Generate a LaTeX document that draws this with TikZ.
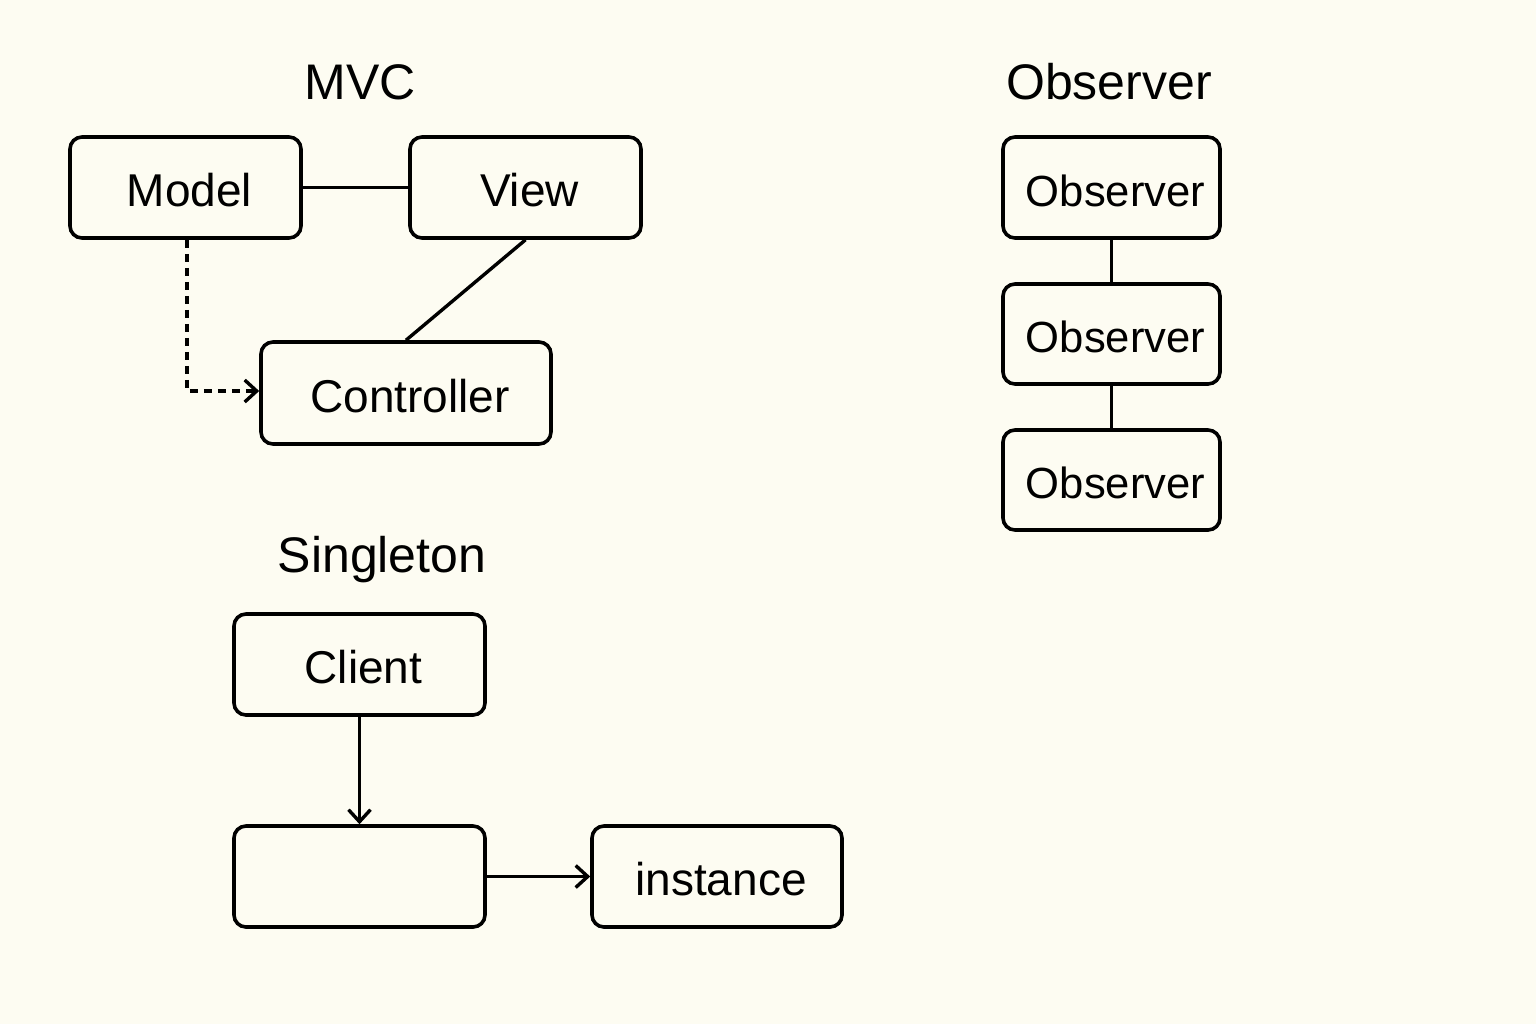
\documentclass[tikz,border=0pt]{standalone}
\usepackage{fontspec}
\setmainfont{Liberation Sans}
\usetikzlibrary{arrows.meta}
\definecolor{bg}{HTML}{FDFCF2}
\begin{document}
\begin{tikzpicture}[x=0.5pt,y=-0.5pt,
  box/.style={draw=black,line width=1.8pt,rounded corners=6pt,inner sep=0pt,fill=bg},
  title/.style={font=\fontsize{25pt}{30pt}\selectfont,anchor=center},
  lbl/.style={font=\fontsize{23pt}{27pt}\selectfont,xshift=2pt,yshift=-1.5pt},
  olbl/.style={lbl,font=\fontsize{21.8pt}{26pt}\selectfont},
  conn/.style={draw=black,line width=1.7pt},
  arr/.style={conn,-{Straight Barb[length=6pt,width=11pt,line width=1.7pt]}}]
\fill[bg] (0,0) rectangle (1536,1024);
\useasboundingbox (0,0) rectangle (1536,1024);
% titles
\node[title] (tmvc) at (360,82) {MVC};
\node[title] (tobs) at (1109,82) {Observer};
\node[title] (tsing) at (382,560) {Singleton};
% MVC boxes
\node[box,minimum width=115.5pt,minimum height=50.5pt] (model) at (185.5,187.5) {};
\node[lbl] at (model) {Model};
\node[box,minimum width=115.5pt,minimum height=50.5pt] (view) at (525.5,187.5) {};
\node[lbl] at (view) {View};
\node[box,minimum width=145pt,minimum height=51pt] (ctrl) at (406,393) {};
\node[lbl] at (ctrl) {Controller};
% Observer boxes
\node[box,minimum width=108.5pt,minimum height=50.5pt] (o1) at (1111.5,187.5) {};
\node[olbl] at (o1) {Observer};
\node[box,minimum width=108.5pt,minimum height=50pt] (o2) at (1111.5,334) {};
\node[olbl] at (o2) {Observer};
\node[box,minimum width=108.5pt,minimum height=50pt] (o3) at (1111.5,480) {};
\node[olbl] at (o3) {Observer};
% Singleton boxes
\node[box,minimum width=125.5pt,minimum height=50.5pt] (client) at (359.5,664.5) {};
\node[lbl] at (client) {Client};
\node[box,minimum width=125.5pt,minimum height=50.5pt] (single) at (359.5,876.5) {};
\node[box,minimum width=125pt,minimum height=50.5pt] (inst) at (717,876.5) {};
\node[lbl] at (inst) {instance};
% connectors
\draw[conn] (model.east) -- (view.west);
\draw[conn] (view.south) -- (ctrl.north);
\coordinate (dcorner) at (187,391);
\draw[arr,dash pattern=on 4pt off 3pt] (model.south -| dcorner) -- (dcorner) -- (ctrl.west |- dcorner);
\draw[conn] (o1.south) -- (o2.north);
\draw[conn] (o2.south) -- (o3.north);
\draw[arr] (client.south) -- (single.north);
\draw[arr] (single.east) -- (inst.west);
\end{tikzpicture}
\end{document}
